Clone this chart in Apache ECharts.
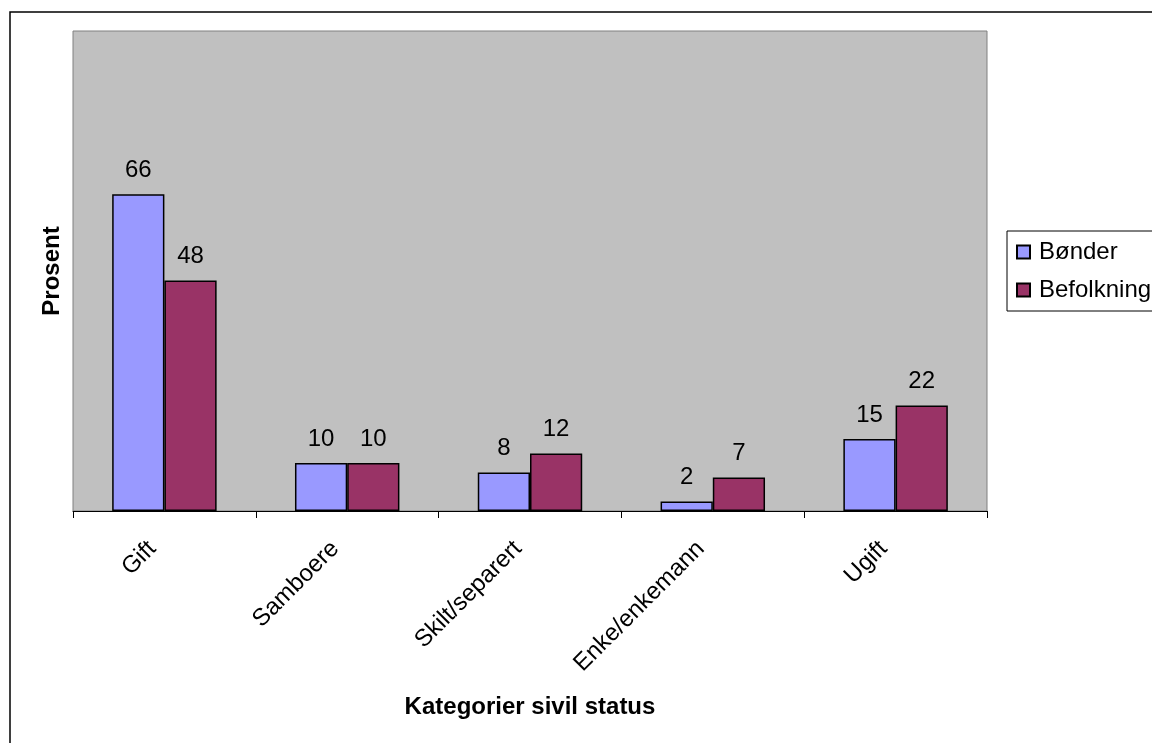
<!DOCTYPE html>
<html>
<head>
<meta charset="utf-8">
<script src="https://cdn.jsdelivr.net/npm/echarts@6/dist/echarts.min.js"></script>
<style>
html,body{margin:0;padding:0;background:#fff;}
#c{width:1152px;height:743px;}
</style>
</head>
<body>
<div id="c"></div>
<script>
const categories = ['Gift', 'Samboere', 'Skilt/separert', 'Enke/enkemann', 'Ugift'];
const bonder = [66, 10, 8, 2, 15];
const befolkning = [48, 10, 12, 7, 22];
const seriesNames = ['Bønder', 'Befolkning'];

const FONT = "'Liberation Sans', Arial, sans-serif";
const chart = echarts.init(document.getElementById('c'), null, {renderer: 'canvas'});

const labelCfg = {
  show: true, position: 'top', distance: 12,
  color: '#000', fontSize: 24, fontFamily: FONT
};

chart.setOption({
  animation: false,
  backgroundColor: '#fff',
  textStyle: {fontFamily: FONT},
  grid: {
    left: 73, right: 165, top: 31, bottom: 232,
    show: true, backgroundColor: '#C0C0C0', borderColor: '#808080', borderWidth: 1
  },
  legend: {
    orient: 'vertical',
    left: 1007, top: 231,
    padding: [9, 30, 9, 9],
    itemGap: 14,
    itemWidth: 13, itemHeight: 13,
    icon: 'rect',
    borderColor: '#000', borderWidth: 1,
    backgroundColor: '#fff',
    textStyle: {fontSize: 24, color: '#000', fontFamily: FONT, padding: [0, 0, 0, 4]},
    data: seriesNames
  },
  xAxis: {
    type: 'category',
    data: categories,
    boundaryGap: true,
    name: 'Kategorier sivil status',
    nameLocation: 'middle',
    nameGap: 184,
    nameTextStyle: {fontSize: 24, fontWeight: 'bold', color: '#000', fontFamily: FONT},
    axisLine: {show: true, lineStyle: {color: '#000', width: 1}},
    axisTick: {show: true, length: 7, lineStyle: {color: '#000'}},
    axisLabel: {rotate: 45, margin: 22, padding: [0, 17, 0, 0], fontSize: 24, color: '#000', fontFamily: FONT, interval: 0}
  },
  yAxis: {
    type: 'value',
    min: 0, max: 100,
    name: 'Prosent',
    nameLocation: 'middle',
    nameGap: 9,
    nameTextStyle: {fontSize: 24, fontWeight: 'bold', color: '#000', fontFamily: FONT},
    axisLine: {show: false},
    axisTick: {show: false},
    axisLabel: {show: false},
    splitLine: {show: false}
  },
  series: [
    {
      name: seriesNames[0], type: 'bar', data: bonder,
      barWidth: '28.57%', barGap: '0%',
      itemStyle: {color: '#9999FF', borderColor: '#000', borderWidth: 1.5},
      label: labelCfg
    },
    {
      name: seriesNames[1], type: 'bar', data: befolkning,
      barWidth: '28.57%', barGap: '0%',
      itemStyle: {color: '#993366', borderColor: '#000', borderWidth: 1.5},
      label: labelCfg
    }
  ],
  graphic: [{
    type: 'rect', silent: true, z: 100,
    shape: {x: 10, y: 12, width: 1300, height: 900},
    style: {fill: 'none', stroke: '#000', lineWidth: 1.5}
  }]
});
</script>
</body>
</html>
